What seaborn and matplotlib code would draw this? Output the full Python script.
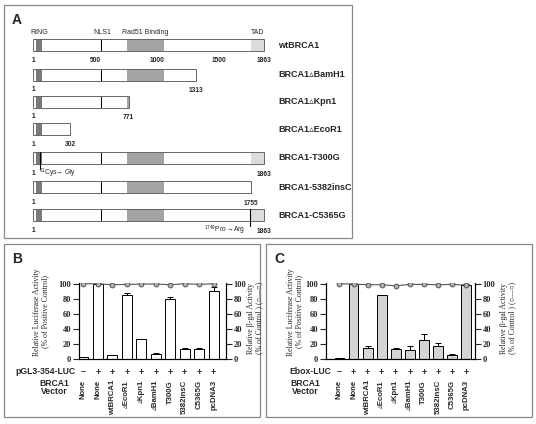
import numpy as np
import matplotlib
matplotlib.use('Agg')
import matplotlib.pyplot as plt
from matplotlib.patches import Rectangle
from matplotlib.transforms import blended_transform_factory
import seaborn as sns

sns.set_style('white')
plt.rcParams['font.family'] = ['Liberation Sans', 'DejaVu Sans']
plt.rcParams['mathtext.default'] = 'regular'

# ---------------- datos del panel A (construcciones de BRCA1) ----------------
construcciones = ['wtBRCA1', 'BRCA1\u25b5BamH1', 'BRCA1\u25b5Kpn1', 'BRCA1\u25b5EcoR1',
                  'BRCA1-T300G', 'BRCA1-5382insC', 'BRCA1-C5365G']
longitudes = [1863, 1313, 771, 302, 1863, 1755, 1863]
dominios = ['RING', 'NLS1', 'Rad51 Binding', 'TAD']
dominio_ini = [25, 552, 757, 1757]
dominio_fin = [70, 560, 1058, 1863]
escala_ticks = [1, 500, 1000, 1500, 1863]
mutacion_pos = [None, None, None, None, 61, None, 1749]
mutacion_txt = [None, None, None, None, '$^{61}$Cys\u2192 Gly', None, '$^{1749}$Pro \u2192Arg']

# ---------------- datos de los paneles B y C ----------------
signos = ['\u2013', '+', '+', '+', '+', '+', '+', '+', '+', '+']
vectores = ['None', 'None', 'wtBRCA1', '\u25b5EcoR1', '\u25b5Kpn1', '\u25b5BamH1',
            'T300G', '5382insC', 'C5365G', 'pcDNA3']
luc_B = [2.0, 100, 5.0, 84.5, 26.0, 6.0, 79.5, 12.8, 13.2, 90.0]
err_B = [0.5, 0.0, 0.8, 3.8, 0.3, 1.4, 2.6, 1.4, 1.0, 5.4]
bgal_B = [100, 100, 98.7, 99.1, 99.6, 99.6, 98.7, 100, 99.1, 100]
luc_C = [1.0, 100, 14.2, 84.4, 13.8, 12.4, 25.8, 17.8, 5.3, 98.2]
err_C = [0.4, 0.0, 3.6, 0.9, 0.9, 4.9, 7.5, 3.5, 1.8, 0.9]
bgal_C = [100, 99.6, 98.7, 98.7, 97.3, 99.1, 99.1, 98.7, 99.1, 98.2]

W, H = 536, 424


def rect(x0, y0, x1, y1):
    return [x0 / W, 1 - y1 / H, (x1 - x0) / W, (y1 - y0) / H]


fig = plt.figure(figsize=(W / 100, H / 100), dpi=100)

# capa de fondo en píxeles para marcos y rótulos
over = fig.add_axes([0, 0, 1, 1])
over.set_xlim(0, W)
over.set_ylim(H, 0)
over.axis('off')
for (x0, y0, x1, y1) in [(4, 5, 352, 238), (4, 244, 260, 417), (266, 244, 532, 417)]:
    over.add_patch(Rectangle((x0, y0), x1 - x0, y1 - y0, fill=False, ec='#888888', lw=0.9))
over.text(12, 20, 'A', fontsize=10, fontweight='bold', va='center')
over.text(12, 259, 'B', fontsize=10, fontweight='bold', va='center')
over.text(274, 259, 'C', fontsize=10, fontweight='bold', va='center')

# -----------------------------------------------------------
# PANEL A - esquema de las construcciones
# -----------------------------------------------------------
px1, px_fin = 33, 264
aa_px = (1863 - 1) / (px_fin - px1)


def aa_en(px):
    return 1 + (px - px1) * aa_px


axA = fig.add_axes(rect(5, 5, 352, 238))
axA.set_xlim(aa_en(5), aa_en(352))
axA.set_ylim(238, 5)
axA.axis('off')

filas_y = [45, 74.5, 101.5, 129, 158, 187, 215]
colores_dom = ['#7a7a7a', 'black', '#a3a3a3', '#dcdcdc']
alto = 12

for y, nombre, lon, mpos, mtxt in zip(filas_y, construcciones, longitudes, mutacion_pos, mutacion_txt):
    axA.barh(y, lon - 1, left=1, height=alto, color='white', edgecolor='none')
    for ini, fin, col in zip(dominio_ini, dominio_fin, colores_dom):
        if ini < lon:
            axA.barh(y, min(fin, lon) - ini, left=ini, height=alto, color=col, edgecolor='none')
    axA.barh(y, lon - 1, left=1, height=alto, fill=False, edgecolor='#666666', lw=0.7)
    if mpos is not None:
        axA.plot([mpos, mpos], [y - alto / 2, y + 11], color='black', lw=0.8)
        if mpos < 500:
            axA.text(mpos - 14, y + 15, mtxt, fontsize=4.8, ha='left', va='center')
        else:
            axA.text(mpos - 40, y + 15, mtxt, fontsize=4.8, ha='right', va='center')
    if nombre == 'wtBRCA1':
        for t in escala_ticks:
            axA.text(t, y + 15, str(t), fontsize=4.8, ha='center', va='center', fontweight='bold')
    else:
        axA.text(1, y + 15, '1', fontsize=4.8, ha='center', va='center', fontweight='bold')
        axA.text(lon, y + 16, str(lon), fontsize=4.8, ha='center', va='center', fontweight='bold')
    axA.text(aa_en(278), y, nombre, fontsize=6.5, fontweight='bold', ha='left', va='center')

for nom, ini, fin in zip(dominios, dominio_ini, dominio_fin):
    axA.text((ini + fin) / 2, 32, nom, fontsize=5, ha='center', va='center')

# -----------------------------------------------------------
# PANELES B y C - actividad luciferasa y beta-gal
# -----------------------------------------------------------
x = np.arange(len(vectores))


def panel(caja, xlim, luc, err, bgal, color, reporter, lab_x, rep_x, vec_x, ylab_l, ylab_r):
    ax = fig.add_axes(rect(*caja))
    sns.barplot(x=x, y=luc, ax=ax, color=color, edgecolor='black', linewidth=0.7,
                width=0.7, saturation=1)
    ax.errorbar(x, luc, yerr=[np.zeros(len(err)), err], fmt='none', ecolor='black',
                elinewidth=0.7, capsize=2.2, capthick=0.7)
    ax2 = ax.twinx()
    sns.lineplot(x=x, y=bgal, ax=ax2, color='#555555', lw=0.8, marker='o', markersize=3.5,
                 markerfacecolor='#b0b0b0', markeredgecolor='#444444', markeredgewidth=0.6)
    for a in (ax, ax2):
        a.set_ylim(0, 101)
        a.set_yticks([0, 20, 40, 60, 80, 100])
        a.spines['top'].set_visible(False)
        for s in ('left', 'right', 'bottom'):
            a.spines[s].set_linewidth(0.8)
            a.spines[s].set_color('black')
        a.set_ylabel('')
        a.tick_params(axis='y', direction='out', length=4, width=0.8, labelsize=6, pad=1.5)
        for lbl in a.get_yticklabels():
            lbl.set_fontfamily('Liberation Serif')
            lbl.set_fontweight('bold')
    ax.set_xlim(*xlim)
    ax.set_xticks([])
    ax2.tick_params(axis='y', left=False, right=True)

    trans = blended_transform_factory(ax.transData, over.transData)
    for i in x:
        over.text(i, 372, signos[i], transform=trans, fontsize=6.5, fontweight='bold',
                  ha='center', va='center')
        over.text(i, 380, vectores[i], transform=trans, fontsize=5.6, fontweight='bold',
                  rotation=90, ha='center', va='top')
    over.text(rep_x, 372, reporter, fontsize=6.2, fontweight='bold', ha='center', va='center')
    over.text(vec_x, 383, 'BRCA1', fontsize=6.2, fontweight='bold', ha='center', va='center')
    over.text(vec_x, 392, 'Vector', fontsize=6.2, fontweight='bold', ha='center', va='center')
    over.text(lab_x[0], 312, ylab_l, fontsize=5.6, family=['Liberation Serif', 'DejaVu Serif'],
              rotation=90, ha='center', va='center', linespacing=1.1)
    over.text(lab_x[1], 318, ylab_r, fontsize=5.6, family=['Liberation Serif', 'DejaVu Sans'],
              rotation=90, ha='center', va='center', linespacing=1.1)


ylab_l = 'Relative Luciferase Activity\n(% of Positive Control)'
ylab_r = 'Relative \u03b2-gal Activity\n(% of Control ) (\u25cb\u2014\u25cb)'

panel((79, 283, 226, 359), (-0.3, 9.85), luc_B, err_B, bgal_B, 'white', 'pGL3-354-LUC',
      (41, 255), 45, 54, ylab_l, ylab_r)
panel((326, 283, 475, 359), (-0.96, 9.64), luc_C, err_C, bgal_C, '#d4d4d4', 'Ebox-LUC',
      (295, 508), 310, 305, ylab_l, ylab_r)

plt.savefig('out.png', dpi=100)
plt.close()
